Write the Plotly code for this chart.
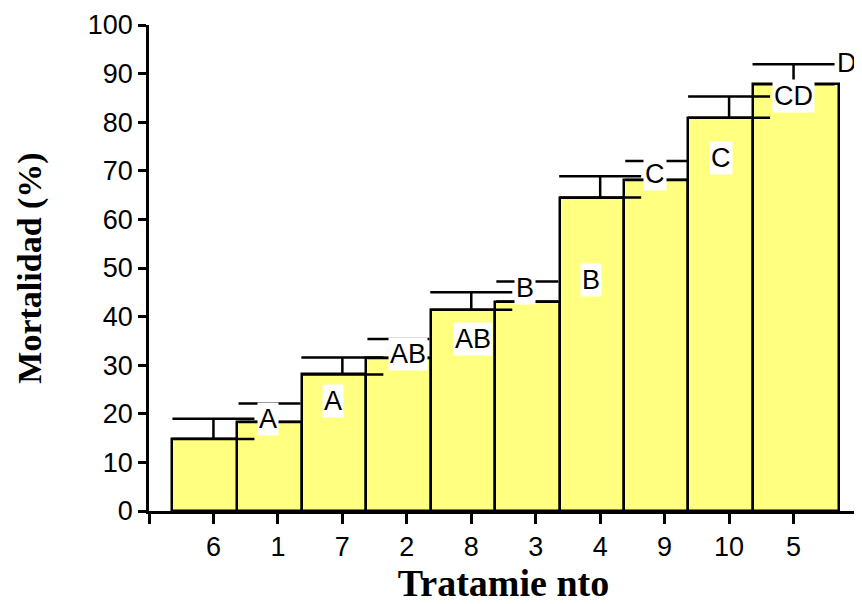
import plotly.graph_objects as go

tratamientos = ["6", "1", "7", "2", "8", "3", "4", "9", "10", "5"]
mortalidad = [14.8, 18.3, 28.1, 31.5, 41.4, 43.1, 64.5, 68.1, 80.9, 87.8]
error = [4.2, 3.8, 3.5, 3.9, 3.6, 4.1, 4.4, 3.9, 4.4, 4.1]
letras = ["A", "A", "AB", "AB", "B", "B", "C", "C", "CD", "D"]
letra_x = [0.85, 1.85, 3.02, 4.03, 4.83, 5.86, 6.85, 7.87, 9.0, 9.83]
letra_y = [19.0, 22.7, 32.4, 35.4, 45.9, 47.6, 69.3, 72.6, 85.3, 92.1]

# bar geometry / error-bar style (as drawn in the original figure)
widths = [1.02, 1.0, 1.0, 1.0, 1.0, 1.0, 1.0, 1.0, 1.0, 1.33]
offsets = [-0.64] + [-0.63] * 9
err_on_tick = [True, False, True, False, True, False, True, False, True, True]

fig = go.Figure()
for i, (val, err) in enumerate(zip(mortalidad, error)):
    fig.add_trace(go.Bar(
        x=[i], y=[val], width=[widths[i]], offset=[offsets[i]],
        marker=dict(color="#FFFF80", line=dict(color="black", width=2.5)),
        showlegend=False, hoverinfo="skip",
    ))
    ex = i if err_on_tick[i] else i + offsets[i] + widths[i] / 2
    cap = 41 if err_on_tick[i] else 31
    fig.add_trace(go.Scatter(
        x=[ex], y=[val], mode="markers",
        marker=dict(size=1, color="rgba(0,0,0,0)"),
        error_y=dict(type="data", array=[err], symmetric=False, arrayminus=[0],
                     color="black", thickness=2.5, width=cap),
        showlegend=False, hoverinfo="skip",
    ))

for t, xx, yy in zip(letras, letra_x, letra_y):
    fig.add_annotation(x=xx, y=yy, text=t, showarrow=False,
                       font=dict(family="Liberation Sans, Arial", size=27, color="black"),
                       bgcolor="white", borderpad=1)

# page body has an 8px margin, so the figure is sized to fit the 862x604 window
fig.update_layout(
    width=854, height=596,
    margin=dict(l=141, r=4, t=17, b=93),
    paper_bgcolor="white", plot_bgcolor="white",
    barmode="overlay", bargap=0,
    xaxis=dict(
        range=[-1, 10], tickmode="array",
        tickvals=list(range(-1, 11)),
        ticktext=[""] + tratamientos + [""],
        showline=True, linecolor="black", linewidth=2.5,
        ticks="outside", ticklen=10, tickwidth=2.5, tickcolor="black",
        showgrid=False, zeroline=False, automargin=False,
        tickfont=dict(family="Liberation Sans, Arial", size=27, color="black"),
        title=dict(text="<b>Tratamie nto</b>", standoff=25,
                   font=dict(family="Liberation Serif, Times New Roman", size=38, color="black")),
    ),
    yaxis=dict(
        range=[0, 100], tickmode="array", tickvals=list(range(0, 101, 10)),
        showline=True, linecolor="black", linewidth=2.5,
        ticks="outside", ticklen=8, tickwidth=2.5, tickcolor="black",
        showgrid=False, zeroline=False, automargin=False,
        tickfont=dict(family="Liberation Sans, Arial", size=27, color="black"),
        title=dict(text="<b>Mortalidad (%)</b>", standoff=36,
                   font=dict(family="Liberation Serif, Times New Roman", size=34, color="black")),
    ),
)

fig.write_html("out.html")
